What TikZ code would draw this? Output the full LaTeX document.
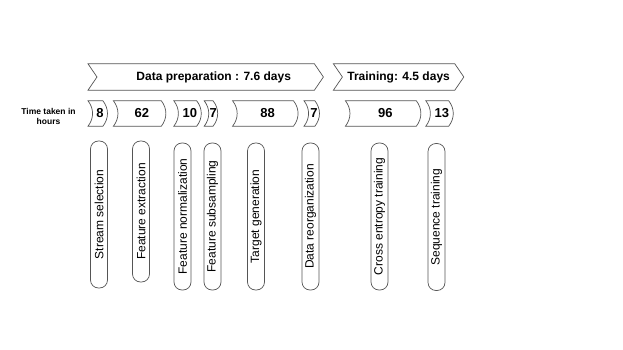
\documentclass[tikz,border=0pt]{standalone}
\usepackage{fontspec}
\setmainfont{Liberation Sans}
\usetikzlibrary{positioning, calc}
\definecolor{Edge}{HTML}{555555}

\tikzset{
  outline/.style={draw=Edge, line width=0.7pt},
  phase/.style={minimum height=26pt, inner sep=0pt, font=\fontsize{12}{14}\selectfont\bfseries},
  hours/.style={minimum height=25pt, inner sep=0pt, font=\fontsize{13}{15}\selectfont\bfseries},
  stage/.style={draw=Edge, line width=0.7pt, rounded corners=8pt, rotate=90,
                minimum height=17pt, inner sep=0pt, font=\fontsize{12}{14}\selectfont},
}

\begin{document}
\begin{tikzpicture}[x=1pt, y=1pt]
  \fill[white] (0,0) rectangle (623,-350);
  \useasboundingbox (0,0) rectangle (623,-350);

  % ── Phases ──
  \node[phase, minimum width=235pt, anchor=west] (prep) at (88,-77) {\hspace*{16pt}Data preparation : 7.6 days};
  \node[phase, minimum width=130pt, right=10pt of prep] (train) {Training: 4.5 days};
  \foreach \n in {prep,train}
    \draw[outline] (\n.north west) -- ([xshift=-9pt]\n.north east) -- (\n.east)
      -- ([xshift=-9pt]\n.south east) -- (\n.south west) -- ([xshift=9pt]\n.west) -- cycle;

  % ── Time taken ──
  \node[font=\fontsize{8.5}{10}\selectfont\bfseries, align=center] (lbl) at (48.5,-116) {Time taken in\\hours};
  \node[hours, minimum width=14.5pt, anchor=west] (h1) at (92.5,-113.5) {8};
  \node[hours, minimum width=47.5pt, right=10.5pt of h1] (h2) {62};
  \node[hours, minimum width=22.5pt, right=12.5pt of h2] (h3) {10};
  \node[hours, minimum width=8.5pt,  right=7.5pt of h3]  (h4) {7};
  \node[hours, minimum width=60.5pt, right=19.5pt of h4] (h5) {88};
  \node[hours, minimum width=10.5pt, right=10.5pt of h5] (h6) {7};
  \node[hours, minimum width=70.5pt, right=30.5pt of h6] (h7) {96};
  \node[hours, minimum width=22.5pt, right=9.5pt of h7]  (h8) {13};
  \foreach \n in {h1,h2,h3,h4,h5,h6,h7,h8}
    \draw[outline] ([xshift=-4.5pt]\n.north west) -- ([xshift=-4.5pt]\n.north east)
      to[bend left=38] ([xshift=-4.5pt]\n.south east) -- ([xshift=-4.5pt]\n.south west)
      to[bend right=38] ([xshift=-4.5pt]\n.north west) -- cycle;

  % ── Stages ──
  \node[stage, minimum width=147pt] (sel)   at (99,-214.5)  {Stream selection};
  \node[stage, minimum width=141pt] (ext)   at (141,-211.5) {Feature extraction};
  \node[stage, minimum width=147pt] (norm)  at (182.5,-216.5) {Feature normalization};
  \node[stage, minimum width=147pt] (sub)   at (212.5,-216.5) {Feature subsampling};
  \node[stage, minimum width=147pt] (tgt)   at (256,-216.5) {Target generation};
  \node[stage, minimum width=147pt] (reorg) at (310.5,-216.5) {Data reorganization};
  \node[stage, minimum width=147pt] (ce)    at (379.5,-216.5) {Cross entropy training};
  \node[stage, minimum width=147pt] (seq)   at (436.5,-217) {Sequence training};
\end{tikzpicture}
\end{document}
